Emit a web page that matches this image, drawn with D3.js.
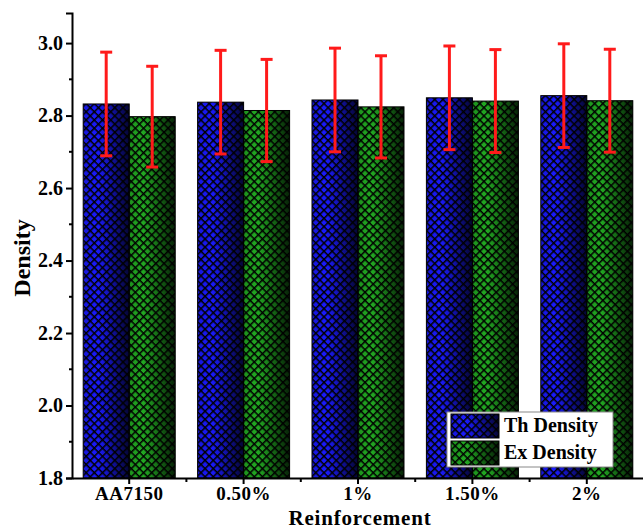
<!DOCTYPE html>
<html><head><meta charset="utf-8">
<script src="https://cdn.jsdelivr.net/npm/d3@7"></script>
<style>body{margin:0;background:#fff}svg{display:block}</style>
</head><body>
<svg id="c" width="643" height="529"></svg>
<script>
const categories = ["AA7150", "0.50%", "1%", "1.50%", "2%"];
const seriesNames = ["Th Density", "Ex Density"];
const thDensity = [2.832, 2.837, 2.843, 2.849, 2.855];
const exDensity = [2.797, 2.814, 2.824, 2.840, 2.841];
const thError = [0.143, 0.143, 0.143, 0.143, 0.143];
const exError = [0.139, 0.141, 0.141, 0.142, 0.142];
const yTicks = [1.8, 2.0, 2.2, 2.4, 2.6, 2.8, 3.0];
const yMinorTicks = [1.9, 2.1, 2.3, 2.5, 2.7, 2.9];
const seriesColors = ["#1a1aff", "#22aa22"];

(function () {
const svg = d3.select("#c");
const font = "'Liberation Serif','Times New Roman',serif";
const mLeft = 72, mRight = 644, mTop = 13, mBottom = 478;

const x = d3.scaleBand().domain(categories).range([mLeft, mRight]);
const xs = d3.scaleBand().domain(seriesNames).range([0, 92]);
const y = d3.scaleLinear().domain([1.8, 3.083]).range([mBottom, mTop]);

const defs = svg.append("defs");
const S = 5.8;
seriesColors.forEach((c, i) => {
  const p = defs.append("pattern").attr("id", "pat" + i)
    .attr("patternUnits", "userSpaceOnUse").attr("width", S).attr("height", S)
    .attr("patternTransform", "rotate(45)");
  p.append("rect").attr("width", S).attr("height", S).attr("fill", c);
  p.append("rect").attr("width", S).attr("height", 1.5).attr("fill", "#000");
  p.append("rect").attr("width", 1.5).attr("height", S).attr("fill", "#000");
});
const g = defs.append("linearGradient").attr("id", "shade").attr("x1", 0).attr("x2", 1).attr("y1", 0).attr("y2", 0);
g.append("stop").attr("offset", 0).attr("stop-color", "#000").attr("stop-opacity", 0.15);
g.append("stop").attr("offset", 0.3).attr("stop-color", "#000").attr("stop-opacity", 0.0);
g.append("stop").attr("offset", 1).attr("stop-color", "#000").attr("stop-opacity", 0.8);

const data = [];
categories.forEach((c, i) => {
  data.push({cat: c, s: 0, v: thDensity[i], e: thError[i]});
  data.push({cat: c, s: 1, v: exDensity[i], e: exError[i]});
});
const bx = d => x(d.cat) + (x.bandwidth() - 92) / 2 + xs(seriesNames[d.s]);

const bars = svg.append("g");
bars.selectAll("rect.b").data(data).join("rect").attr("class", "b")
  .attr("x", bx).attr("width", xs.bandwidth())
  .attr("y", d => y(d.v)).attr("height", d => y(1.8) - y(d.v))
  .attr("fill", d => "url(#pat" + d.s + ")");
bars.selectAll("rect.s").data(data).join("rect").attr("class", "s")
  .attr("x", bx).attr("width", xs.bandwidth())
  .attr("y", d => y(d.v)).attr("height", d => y(1.8) - y(d.v))
  .attr("fill", "url(#shade)").attr("stroke", "#000").attr("stroke-width", 1);

// error bars
const eg = svg.append("g").attr("stroke", "#ff1a1a").attr("stroke-width", 3);
data.forEach(d => {
  const cx = bx(d) + xs.bandwidth() / 2;
  eg.append("line").attr("x1", cx).attr("x2", cx).attr("y1", y(d.v + d.e)).attr("y2", y(d.v - d.e));
  eg.append("line").attr("x1", cx - 6).attr("x2", cx + 6).attr("y1", y(d.v + d.e)).attr("y2", y(d.v + d.e));
  eg.append("line").attr("x1", cx - 6).attr("x2", cx + 6).attr("y1", y(d.v - d.e)).attr("y2", y(d.v - d.e));
});

// y axis
const ya = svg.append("g").attr("transform", `translate(${mLeft},0)`)
  .call(d3.axisLeft(y).tickValues(yTicks).tickFormat(d3.format(".1f")).tickSize(6).tickPadding(3));
ya.select(".domain").attr("stroke-width", 2);
ya.selectAll(".tick line").attr("stroke-width", 2);
ya.selectAll(".tick text").attr("font-family", font).attr("font-weight", "bold").attr("font-size", 20).attr("fill", "#000");
svg.append("g").selectAll("line").data(yMinorTicks).join("line")
  .attr("x1", mLeft - 3).attr("x2", mLeft).attr("y1", d => y(d)).attr("y2", d => y(d))
  .attr("stroke", "#000").attr("stroke-width", 2);

// x axis
const xa = svg.append("g").attr("transform", `translate(0,${mBottom})`)
  .call(d3.axisBottom(x).tickSize(6).tickPadding(3).tickSizeOuter(0));
xa.select(".domain").attr("stroke-width", 2);
xa.selectAll(".tick line").attr("stroke-width", 2);
xa.selectAll(".tick text").attr("font-family", font).attr("font-weight", "bold").attr("font-size", 19)
  .attr("letter-spacing", 0.5).attr("fill", "#000");
svg.append("g").selectAll("line").data(categories.slice(1)).join("line")
  .attr("x1", d => x(d)).attr("x2", d => x(d)).attr("y1", mBottom).attr("y2", mBottom + 4)
  .attr("stroke", "#000").attr("stroke-width", 2);

// axis titles
svg.append("text").attr("x", 360).attr("y", 525).attr("text-anchor", "middle")
  .attr("font-family", font).attr("font-weight", "bold").attr("font-size", 21).attr("letter-spacing", 0.8).text("Reinforcement");
svg.append("text").attr("transform", "translate(30,258) rotate(-90)").attr("text-anchor", "middle")
  .attr("font-family", font).attr("font-weight", "bold").attr("font-size", 24).text("Density");

// legend
const lg = svg.append("g").attr("transform", "translate(447,412)");
lg.append("rect").attr("width", 166).attr("height", 55).attr("fill", "#fff").attr("stroke", "#888").attr("stroke-width", 1);
seriesNames.forEach((n, i) => {
  lg.append("rect").attr("x", 4).attr("y", 2 + i * 27).attr("width", 48).attr("height", 24)
    .attr("fill", "url(#pat" + i + ")");
  lg.append("rect").attr("x", 4).attr("y", 2 + i * 27).attr("width", 48).attr("height", 24)
    .attr("fill", "url(#shade)").attr("stroke", "#000").attr("stroke-width", 1);
  lg.append("text").attr("x", 57).attr("y", 20 + i * 27).attr("font-family", font).attr("font-weight", "bold")
    .attr("font-size", 20).text(n);
});
})();
</script>
</body></html>
